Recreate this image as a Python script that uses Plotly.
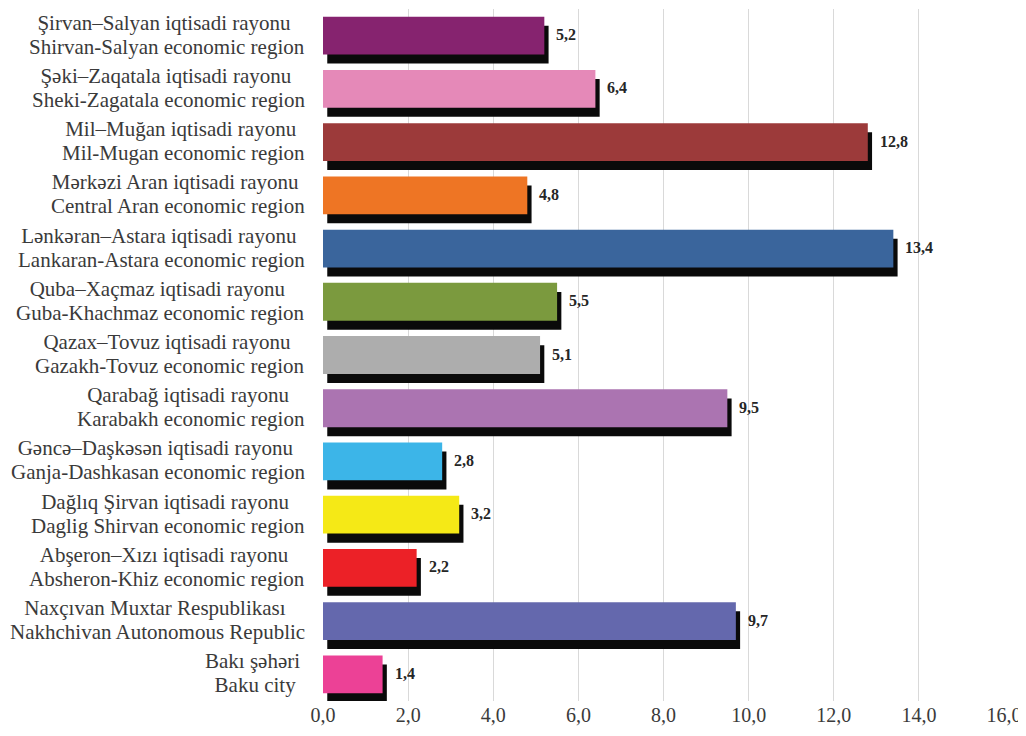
import plotly.graph_objects as go

regions_az = [
    "Şirvan–Salyan iqtisadi rayonu", "Şəki–Zaqatala iqtisadi rayonu", "Mil–Muğan iqtisadi rayonu",
    "Mərkəzi Aran iqtisadi rayonu", "Lənkəran–Astara iqtisadi rayonu", "Quba–Xaçmaz iqtisadi rayonu",
    "Qazax–Tovuz iqtisadi rayonu", "Qarabağ iqtisadi rayonu", "Gəncə–Daşkəsən iqtisadi rayonu",
    "Dağlıq Şirvan iqtisadi rayonu", "Abşeron–Xızı iqtisadi rayonu", "Naxçıvan Muxtar Respublikası",
    "Bakı şəhəri",
]
regions_en = [
    "Shirvan-Salyan economic region", "Sheki-Zagatala economic region", "Mil-Mugan economic region",
    "Central Aran economic region", "Lankaran-Astara economic region", "Guba-Khachmaz economic region",
    "Gazakh-Tovuz economic region", "Karabakh economic region", "Ganja-Dashkasan economic region",
    "Daglig Shirvan economic region", "Absheron-Khiz economic region", "Nakhchivan Autonomous Republic",
    "Baku city",
]
values = [5.2, 6.4, 12.8, 4.8, 13.4, 5.5, 5.1, 9.5, 2.8, 3.2, 2.2, 9.7, 1.4]
colors = ["#86236F", "#E589B8", "#9C3A3A", "#EE7524", "#3A659C", "#7B9A3E", "#ADADAD",
          "#AB74B1", "#3CB5E8", "#F5E916", "#EC2127", "#6468AD", "#EC4196"]
x_ticks = [0, 2, 4, 6, 8, 10, 12, 14, 16]

FONT = "Liberation Serif"

cats = list(range(len(values)))
W = 0.71
shadow_dx = 0.1
shadow_dy = 0.17

fig = go.Figure()
fig.add_trace(go.Bar(
    y=cats, x=values, base=shadow_dx, orientation="h",
    marker=dict(color="#0A0A0A", line=dict(width=0)),
    width=W, offset=-W / 2 + shadow_dy, hoverinfo="skip", showlegend=False,
))
fig.add_trace(go.Bar(
    y=cats, x=values, orientation="h",
    marker=dict(color=colors, line=dict(width=0)),
    width=W, offset=-W / 2, showlegend=False,
))

span = '<span style="font-size:21px">{}</span>'
for i, v in enumerate(values):
    fig.add_annotation(
        x=v, y=i, xref="x", yref="y", text="<b>" + f"{v:.1f}".replace(".", ",") + "</b>",
        showarrow=False, xanchor="left", xshift=10, yshift=1,
        font=dict(family=FONT, size=16, color="#262626"),
    )
    fig.add_annotation(
        x=0, y=i, xref="paper", yref="y",
        text=span.format(regions_az[i] + " ") + "<br>" + span.format(regions_en[i]),
        showarrow=False, xanchor="right", align="center", xshift=-16, yshift=1,
        font=dict(family=FONT, size=18.5, color="#3A3A3A"),
    )

fig.update_layout(
    width=1018, height=728,
    margin=dict(l=315, r=22, t=1, b=35),
    barmode="overlay",
    plot_bgcolor="white", paper_bgcolor="white",
    separators=", ",
    font=dict(family=FONT),
    xaxis=dict(
        range=[0, 16], tickvals=x_ticks, tickformat=".1f",
        showgrid=True, gridcolor="#D9D9D9", gridwidth=1, zeroline=False,
        showline=False, ticks="", ticklen=0,
        tickfont=dict(family=FONT, size=20, color="#3A3A3A"),
    ),
    yaxis=dict(
        range=[len(values) - 0.5, -0.5], showticklabels=False, showgrid=False,
        zeroline=False, showline=False, ticks="",
    ),
)

fig.write_html("out.html")
